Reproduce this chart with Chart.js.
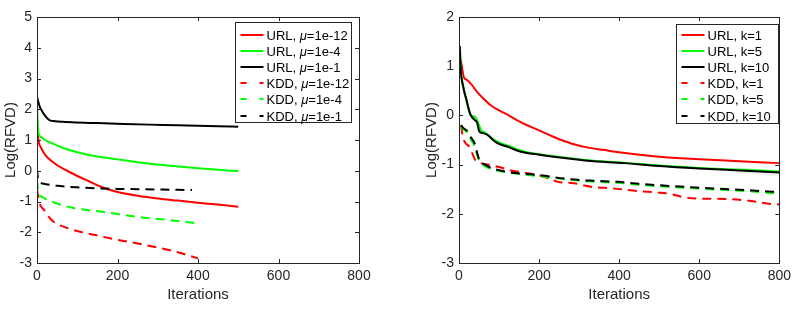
<!DOCTYPE html>
<html>
<head>
<meta charset="utf-8">
<script src="https://cdn.jsdelivr.net/npm/chart.js@4.4.0/dist/chart.umd.min.js"></script>
<style>
    html, body { margin: 0; padding: 0; background: #fff; }
    #wrap { position: relative; width: 796px; height: 310px; }
    .panel { position: absolute; top: 0; width: 398px; height: 310px; }
</style>
</head>
<body>
<div id="wrap">
    <div class="panel" style="left:0"><canvas id="muChart"></canvas></div>
    <div class="panel" style="left:398px"><canvas id="kChart"></canvas></div>
</div>
<script>
// left panel: varying mu
const muLabels = ['URL, μ=1e-12', 'URL, μ=1e-4', 'URL, μ=1e-1', 'KDD, μ=1e-12', 'KDD, μ=1e-4', 'KDD, μ=1e-1'];

const urlMu12Iter = [0, 2, 5, 10, 20, 30, 50, 75, 100, 130, 160, 200, 250, 300, 350, 400, 450, 500];
const urlMu12 = [1.70, 1.20, 0.90, 0.75, 0.52, 0.38, 0.18, 0.00, -0.17, -0.35, -0.53, -0.69, -0.81, -0.90, -0.97, -1.04, -1.10, -1.17];

const urlMu4Iter = [0, 2, 4, 10, 20, 40, 65, 100, 150, 200, 250, 300, 350, 400, 450, 500];
const urlMu4 = [2.30, 1.50, 1.20, 1.10, 1.00, 0.88, 0.74, 0.60, 0.46, 0.37, 0.28, 0.20, 0.14, 0.08, 0.03, -0.01];

const urlMu1Iter = [0, 3, 7, 13, 19, 26, 32, 45, 65, 100, 150, 200, 280, 350, 400, 450, 500];
const urlMu1 = [2.42, 2.25, 2.08, 1.93, 1.81, 1.70, 1.64, 1.61, 1.59, 1.57, 1.55, 1.53, 1.50, 1.48, 1.46, 1.45, 1.43];

const kddMu12Iter = [0, 5, 19, 36, 77, 144, 202, 268, 343, 400];
const kddMu12 = [-0.60, -1.00, -1.30, -1.60, -1.87, -2.09, -2.25, -2.41, -2.63, -2.85];

const kddMu4Iter = [0, 4, 11, 44, 94, 160, 243, 326, 400];
const kddMu4 = [-0.30, -0.73, -0.84, -1.04, -1.22, -1.33, -1.49, -1.60, -1.71];

const kddMu1Iter = [0, 3, 10, 20, 50, 100, 150, 200, 250, 300, 350, 385];
const kddMu1 = [0.05, -0.30, -0.40, -0.43, -0.49, -0.54, -0.57, -0.59, -0.60, -0.61, -0.62, -0.63];

// right panel: varying k
const kLabels = ['URL, k=1', 'URL, k=5', 'URL, k=10', 'KDD, k=1', 'KDD, k=5', 'KDD, k=10'];

const urlK1Iter = [5, 8, 12, 20, 30, 45, 60, 80, 100, 115, 150, 190, 240, 280, 320, 360, 410, 500, 600, 700, 800];
const urlK1 = [1.10, 0.95, 0.78, 0.72, 0.64, 0.48, 0.35, 0.20, 0.10, 0.04, -0.12, -0.27, -0.45, -0.57, -0.65, -0.70, -0.76, -0.84, -0.89, -0.93, -0.97];

const urlK5Iter = [2, 5, 8, 12, 16, 20, 25, 30, 40, 48, 55, 65, 80, 100, 125, 155, 200, 238, 321, 412, 500, 600, 700, 800];
const urlK5 = [1.38, 0.90, 0.70, 0.55, 0.40, 0.25, 0.10, 0.00, -0.03, -0.15, -0.30, -0.35, -0.45, -0.55, -0.62, -0.72, -0.79, -0.83, -0.91, -0.96, -1.02, -1.07, -1.10, -1.14];

const urlK10Iter = [2, 4, 6, 10, 14, 18, 22, 27, 31, 40, 45, 51, 60, 72, 85, 97, 122, 155, 200, 238, 321, 412, 500, 600, 700, 800];
const urlK10 = [1.41, 1.00, 0.78, 0.60, 0.45, 0.34, 0.20, 0.05, -0.02, -0.10, -0.14, -0.33, -0.36, -0.40, -0.50, -0.57, -0.64, -0.74, -0.80, -0.84, -0.92, -0.97, -1.03, -1.08, -1.12, -1.16];

const kddK1Iter = [5, 10, 15, 25, 32, 40, 55, 80, 100, 130, 160, 200, 230, 246, 288, 310, 338, 380, 450, 499, 530, 560, 600, 665, 720, 781, 800];
const kddK1 = [-0.20, -0.45, -0.55, -0.63, -0.75, -0.90, -0.97, -1.01, -1.05, -1.12, -1.16, -1.22, -1.30, -1.35, -1.38, -1.42, -1.46, -1.48, -1.54, -1.57, -1.60, -1.66, -1.69, -1.70, -1.73, -1.80, -1.81];

const kddK5Iter = [5, 10, 22, 30, 39, 45, 51, 65, 85, 130, 196, 280, 338, 396, 450, 500, 582, 650, 720, 781, 800];
const kddK5 = [-0.22, -0.28, -0.36, -0.50, -0.62, -0.80, -0.93, -1.03, -1.10, -1.17, -1.23, -1.31, -1.35, -1.37, -1.41, -1.44, -1.48, -1.51, -1.54, -1.58, -1.59];

const kddK10Iter = [5, 10, 22, 30, 39, 45, 51, 65, 85, 130, 196, 280, 338, 396, 450, 500, 582, 650, 720, 781, 800];
const kddK10 = [-0.20, -0.25, -0.33, -0.45, -0.57, -0.75, -0.91, -1.00, -1.08, -1.16, -1.21, -1.30, -1.33, -1.35, -1.39, -1.42, -1.46, -1.49, -1.52, -1.55, -1.56];

const FONT = '"Liberation Sans", Arial, Helvetica, sans-serif';
const RED = '#ff0000', GREEN = '#00ff00', BLACK = '#000000';

function series(label, iters, vals, color, dashed, order) {
    return {
        label: label,
        data: iters.map((it, i) => ({ x: it, y: vals[i] })),
        borderColor: color,
        backgroundColor: color,
        borderWidth: 2,
        borderDash: dashed ? [9, 6] : [],
        pointRadius: 0,
        fill: false,
        cubicInterpolationMode: 'monotone',
        order: order
    };
}

// matlab-ish box, inward ticks and a legend inside the axes
const matlabAxes = {
    id: 'matlabAxes',
    afterDraw(chart, args, opts) {
        const ctx = chart.ctx;
        const a = chart.chartArea;
        const xs = chart.scales.x, ys = chart.scales.y;
        ctx.save();
        ctx.strokeStyle = '#262626';
        ctx.lineWidth = 1;
        ctx.setLineDash([]);
        ctx.beginPath();
        xs.ticks.forEach(t => {
            const px = Math.round(xs.getPixelForValue(t.value)) + 0.5;
            ctx.moveTo(px, a.bottom); ctx.lineTo(px, a.bottom - 4);
            ctx.moveTo(px, a.top); ctx.lineTo(px, a.top + 4);
        });
        ys.ticks.forEach(t => {
            const py = Math.round(ys.getPixelForValue(t.value)) + 0.5;
            ctx.moveTo(a.left, py); ctx.lineTo(a.left + 4, py);
            ctx.moveTo(a.right, py); ctx.lineTo(a.right - 4, py);
        });
        ctx.stroke();
        ctx.strokeRect(Math.round(a.left) + 0.5, Math.round(a.top) + 0.5,
            Math.round(a.right - a.left), Math.round(a.bottom - a.top));

        // legend
        const bx = Math.round(a.right - opts.right - opts.width) + 0.5;
        const by = Math.round(a.top + opts.top) + 0.5;
        ctx.fillStyle = '#fff';
        ctx.fillRect(bx, by, opts.width, opts.height);
        ctx.strokeStyle = '#262626';
        ctx.strokeRect(bx, by, opts.width, opts.height);
        ctx.textBaseline = 'middle';
        chart.data.datasets.forEach((ds, i) => {
            const cy = Math.round(by + opts.firstRow + i * 16.2);
            ctx.strokeStyle = ds.borderColor;
            ctx.lineWidth = 2;
            ctx.setLineDash(ds.borderDash.length ? [6, 13] : []);
            ctx.beginPath();
            ctx.moveTo(bx + 5, cy);
            ctx.lineTo(bx + 28, cy);
            ctx.stroke();
            ctx.setLineDash([]);
            ctx.fillStyle = '#000';
            let tx = bx + 31;
            const parts = ds.label.split('μ');
            ctx.font = '13px ' + FONT;
            ctx.fillText(parts[0], tx, cy + 1);
            tx += ctx.measureText(parts[0]).width;
            if (parts.length > 1) {
                ctx.font = 'italic 13px ' + FONT;
                ctx.fillText('μ', tx, cy + 1);
                tx += ctx.measureText('μ').width;
                ctx.font = '13px ' + FONT;
                ctx.fillText(parts[1], tx, cy + 1);
            }
        });
        ctx.restore();
    }
};

function makeChart(canvasId, datasets, yMin, yMax, padLeft, padRight, yWidth, legendOpts) {
    return new Chart(document.getElementById(canvasId), {
        type: 'line',
        data: { datasets: datasets },
        options: {
            responsive: true,
            maintainAspectRatio: false,
            animation: false,
            layout: { padding: { left: padLeft, right: padRight, top: 17, bottom: 0 } },
            scales: {
                x: {
                    type: 'linear',
                    min: 0, max: 800,
                    grid: { display: false, drawTicks: false },
                    border: { display: false },
                    ticks: { stepSize: 200, padding: 5, color: '#262626', font: { family: FONT, size: 14 } },
                    title: { display: true, text: 'Iterations', color: '#262626', font: { family: FONT, size: 15 }, padding: { top: 0, bottom: 6 } },
                    afterFit(scale) { scale.height = 47; }
                },
                y: {
                    min: yMin, max: yMax,
                    grid: { display: false, drawTicks: false },
                    border: { display: false },
                    ticks: { stepSize: 1, padding: 5, color: '#262626', font: { family: FONT, size: 14 } },
                    title: { display: true, text: 'Log(RFVD)', color: '#262626', font: { family: FONT, size: 15 }, padding: { top: 0, bottom: 0 } },
                    afterFit(scale) { scale.width = yWidth; }
                }
            },
            plugins: {
                legend: { display: false },
                tooltip: { enabled: false },
                matlabAxes: legendOpts
            }
        },
        plugins: [matlabAxes]
    });
}

const muSets = [
    series(muLabels[0], urlMu12Iter, urlMu12, RED, false, 6),
    series(muLabels[1], urlMu4Iter, urlMu4, GREEN, false, 5),
    series(muLabels[2], urlMu1Iter, urlMu1, BLACK, false, 4),
    series(muLabels[3], kddMu12Iter, kddMu12, RED, true, 3),
    series(muLabels[4], kddMu4Iter, kddMu4, GREEN, true, 2),
    series(muLabels[5], kddMu1Iter, kddMu1, BLACK, true, 1)
];

const kSets = [
    series(kLabels[0], urlK1Iter, urlK1, RED, false, 6),
    series(kLabels[1], urlK5Iter, urlK5, GREEN, false, 5),
    series(kLabels[2], urlK10Iter, urlK10, BLACK, false, 4),
    series(kLabels[3], kddK1Iter, kddK1, RED, true, 3),
    series(kLabels[4], kddK5Iter, kddK5, GREEN, true, 2),
    series(kLabels[5], kddK10Iter, kddK10, BLACK, true, 1)
];

makeChart('muChart', muSets, -3, 5, 2, 39, 35, { right: 8, top: 5, width: 116, height: 100, firstRow: 12 });
makeChart('kChart', kSets, -3, 2, 25, 15, 36, { right: 1, top: 7, width: 102, height: 99, firstRow: 10 });
</script>
</body>
</html>
